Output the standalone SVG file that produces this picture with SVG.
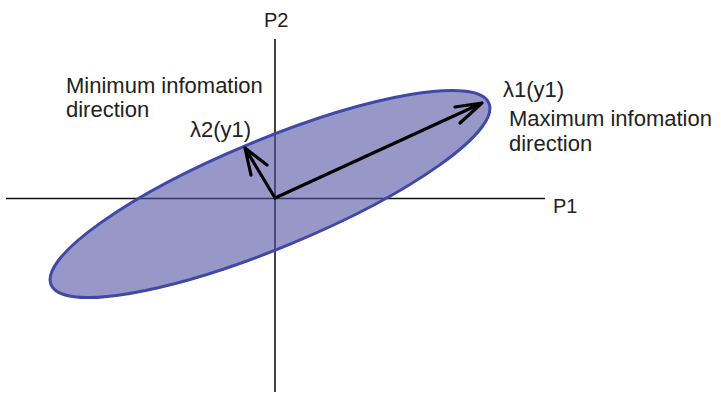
<svg xmlns="http://www.w3.org/2000/svg" width="721" height="397" viewBox="0 0 721 397">
  <style>
    .axis { stroke: #111; stroke-width: 1.6; fill: none; }
    .vec { stroke: #000; stroke-width: 3.2; fill: none; stroke-linecap: round; stroke-linejoin: round; }
    .lbl { font-family: "Liberation Sans", Arial, sans-serif; fill: #222; }
    .big { font-size: 22px; }
    .ax { font-size: 20px; }
  </style>
  <rect width="721" height="397" fill="#ffffff"/>
  <g id="axes">
    <line class="axis" x1="6" y1="198.5" x2="545" y2="198.5"/>
    <line class="axis" x1="275" y1="39" x2="275" y2="392"/>
  </g>
  <g id="ellipse">
    <ellipse cx="270" cy="194" rx="237" ry="54" transform="rotate(-22.5 270 194)" fill="rgb(83,83,163)" fill-opacity="0.6" stroke="#4048a8" stroke-width="3"/>
  </g>
  <g id="connectors">
    <path class="vec" d="M275 198 L482 103 M455 107 L482 103 L460 123"/>
    <path class="vec" d="M275 198 L245 148 M251 175 L245 148 L267 165"/>
  </g>
  <g id="label-p2"><text class="lbl ax" x="264" y="27">P2</text></g>
  <g id="label-p1"><text class="lbl ax" x="553" y="213">P1</text></g>
  <g id="label-min">
    <text class="lbl big" x="66" y="93">Minimum infomation</text>
    <text class="lbl big" x="66" y="117">direction</text>
  </g>
  <g id="label-l2"><text class="lbl big" x="190" y="137">λ2(y1)</text></g>
  <g id="label-l1"><text class="lbl big" x="503" y="97">λ1(y1)</text></g>
  <g id="label-max">
    <text class="lbl big" x="509" y="126">Maximum infomation</text>
    <text class="lbl big" x="509" y="151">direction</text>
  </g>
</svg>
